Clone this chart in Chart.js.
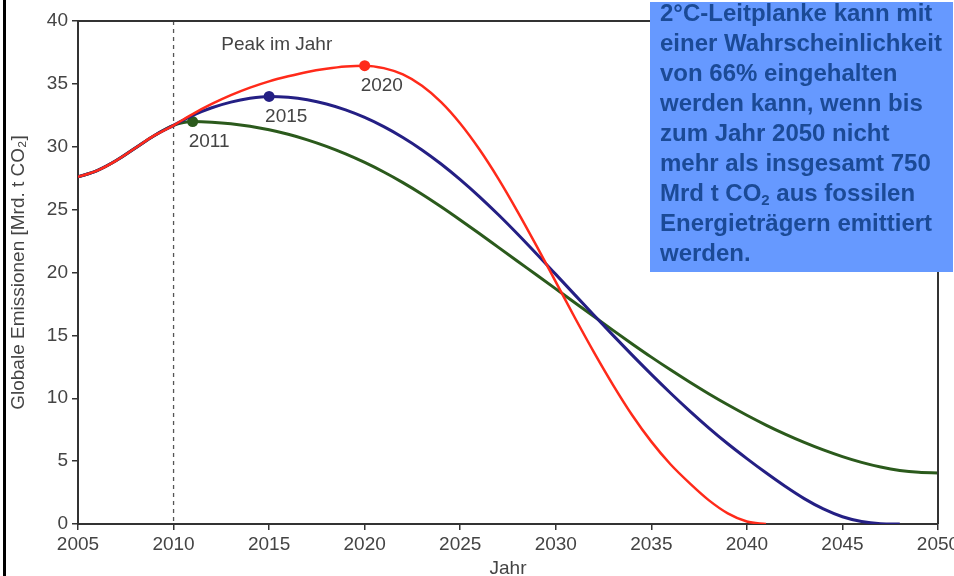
<!DOCTYPE html>
<html>
<head>
<meta charset="utf-8">
<script src="https://cdn.jsdelivr.net/npm/chart.js@4"></script>
<style>
  html, body { margin: 0; padding: 0; background: #fff; }
  #wrap { position: relative; width: 954px; height: 576px; overflow: hidden; }
  #c { position: absolute; left: 0; top: 0; }
  #leftbar { position: absolute; left: 3px; top: 0; width: 3px; height: 576px; background: #000; }
  #box { position: absolute; left: 650px; top: 2px; width: 303px; height: 270px; background: #6699ff; }
  #boxtext { position: absolute; left: 10px; top: -4px; font-family: "Liberation Sans", Arial, sans-serif; font-weight: bold;
    font-size: 24px; line-height: 30px; color: #1b4a96; white-space: nowrap; }
  #boxtext sub { font-size: 15px; line-height: 0; vertical-align: -4px; }
</style>
</head>
<body>
<div id="wrap">
  <canvas id="c" width="954" height="576"></canvas>
  <div id="leftbar"></div>
  <div id="box"><div id="boxtext">2°C-Leitplanke kann mit<br>einer Wahrscheinlichkeit<br>von 66% eingehalten<br>werden kann, wenn bis<br>zum Jahr 2050 nicht<br>mehr als insgesamt 750<br>Mrd t CO<sub>2</sub> aus fossilen<br>Energieträgern emittiert<br>werden.</div></div>
</div>
<script>
// ---- data ----
const years = [2005,2006,2007,2008,2009,2010,2011,2012,2013,2014,2015,2016,2017,2018,2019,2020,
  2021,2022,2023,2024,2025,2026,2027,2028,2029,2030,2031,2032,2033,2034,2035,2036,2037,2038,2039,2040,
  2041,2042,2043,2044,2045,2046,2047,2048,2049,2050];

const peak2020 = [27.6,28.1,28.9,29.9,30.9,31.7,32.6,33.4,34.1,34.7,35.2,35.6,35.95,36.2,36.38,36.45,
  36.25,35.75,34.85,33.55,31.85,29.8,27.45,24.85,22.1,19.25,16.4,13.65,11.05,8.65,6.55,4.75,3.25,1.9,0.85,0.2,0];

const peak2015 = [27.6,28.1,28.9,29.9,30.9,31.7,32.5,33.1,33.55,33.85,34.0,33.93,33.73,33.4,32.93,32.33,
  31.6,30.74,29.75,28.63,27.39,26.04,24.59,23.06,21.47,19.85,18.22,16.6,15.0,13.43,11.9,10.42,9.0,7.65,6.38,5.2,
  4.07,3.0,2.02,1.2,0.58,0.2,0.03,0];

const peak2011 = [27.6,28.1,28.9,29.9,30.9,31.7,32.0,31.95,31.83,31.63,31.35,30.99,30.55,30.03,29.43,28.75,
  27.99,27.15,26.23,25.23,24.18,23.1,22.0,20.9,19.8,18.7,17.6,16.5,15.4,14.32,13.27,12.26,11.29,10.36,9.48,8.65,
  7.87,7.15,6.49,5.89,5.36,4.9,4.53,4.26,4.11,4.06];

const peakYears = [2011, 2015, 2020];
const peakValues = [32.0, 34.0, 36.45];
const peakLabels = ['2011', '2015', '2020'];
const peakColors = ['#2b5a1c', '#241f84', '#ff2a1a'];

const xTicks = [2005,2010,2015,2020,2025,2030,2035,2040,2045,2050];
const yTicks = [0,5,10,15,20,25,30,35,40];
const dashYear = 2010;
const peakTitle = 'Peak im Jahr';
const peakTitlePos = {x: 2012.5, y: 38.1};

const toPts = (vals) => vals.map((v, i) => ({x: years[i], y: v}));
const FONT = '"Liberation Sans", Arial, Helvetica, sans-serif';
const TXT = '#444';
const AX = '#333';

const overlay = {
  id: 'overlay',
  beforeDatasetsDraw(chart) {
    const {ctx, chartArea, scales} = chart;
    const x = scales.x.getPixelForValue(dashYear);
    ctx.save();
    ctx.strokeStyle = '#555';
    ctx.lineWidth = 1.3;
    ctx.setLineDash([4, 4]);
    ctx.beginPath();
    ctx.moveTo(x, chartArea.top);
    ctx.lineTo(x, chartArea.bottom);
    ctx.stroke();
    ctx.restore();
  },
  afterDraw(chart) {
    const {ctx, chartArea, scales} = chart;
    ctx.save();
    ctx.strokeStyle = AX;
    ctx.lineWidth = 2;
    ctx.beginPath();
    ctx.moveTo(chartArea.left, chartArea.top);
    ctx.lineTo(chartArea.right, chartArea.top);
    ctx.lineTo(chartArea.right, chartArea.bottom);
    ctx.stroke();
    ctx.fillStyle = TXT;
    ctx.font = '19px ' + FONT;
    ctx.textBaseline = 'middle';
    ctx.textAlign = 'left';
    ctx.fillText(peakTitle, scales.x.getPixelForValue(peakTitlePos.x), scales.y.getPixelForValue(peakTitlePos.y));
    for (let i = 0; i < peakYears.length; i++) {
      const px = scales.x.getPixelForValue(peakYears[i]);
      const py = scales.y.getPixelForValue(peakValues[i]);
      ctx.fillText(peakLabels[i], px - 4, py + 20);
    }
    ctx.restore();
  }
};

new Chart(document.getElementById('c'), {
  type: 'line',
  data: {
    datasets: [
      {data: toPts(peak2020), borderColor: '#ff2a1a', borderWidth: 2.5, pointRadius: 0, cubicInterpolationMode: 'monotone'},
      {data: toPts(peak2015), borderColor: '#241f84', borderWidth: 3, pointRadius: 0, cubicInterpolationMode: 'monotone'},
      {data: toPts(peak2011), borderColor: '#2b5a1c', borderWidth: 3, pointRadius: 0, cubicInterpolationMode: 'monotone'},
      {type: 'scatter', data: peakYears.map((y, i) => ({x: y, y: peakValues[i]})),
        pointRadius: 5.5, pointBackgroundColor: peakColors, pointBorderWidth: 0, showLine: false}
    ]
  },
  options: {
    responsive: false,
    animation: false,
    devicePixelRatio: 1,
    layout: {padding: {top: 21, right: 16, left: 0, bottom: 0}},
    plugins: {legend: {display: false}, tooltip: {enabled: false}},
    scales: {
      x: {
        type: 'linear', min: 2005, max: 2050,
        afterBuildTicks: (s) => { s.ticks = xTicks.map(v => ({value: v})); },
        afterFit: (s) => { s.height = 52; s.paddingRight = 0; s.paddingLeft = 0; },
        ticks: {callback: (v) => String(v), font: {size: 19, family: FONT}, color: TXT, padding: 3, maxRotation: 0, autoSkip: false},
        grid: {drawOnChartArea: false, drawTicks: true, tickLength: 6, color: AX, lineWidth: 1.5},
        border: {color: AX, width: 2},
        title: {display: true, text: 'Jahr', font: {size: 19, family: FONT}, color: TXT, padding: {top: 0, bottom: -4}}
      },
      y: {
        type: 'linear', min: 0, max: 40,
        afterBuildTicks: (s) => { s.ticks = yTicks.map(v => ({value: v})); },
        afterFit: (s) => { s.width = 78; },
        ticks: {font: {size: 19, family: FONT}, color: TXT, padding: 4},
        grid: {drawOnChartArea: false, drawTicks: true, tickLength: 6, color: AX, lineWidth: 1.5},
        border: {color: AX, width: 2},
        title: {display: true, text: 'Globale Emissionen [Mrd. t CO₂]', font: {size: 19, family: FONT}, color: TXT, padding: {top: 7, bottom: 0}}
      }
    }
  },
  plugins: [overlay]
});
</script>
</body>
</html>
